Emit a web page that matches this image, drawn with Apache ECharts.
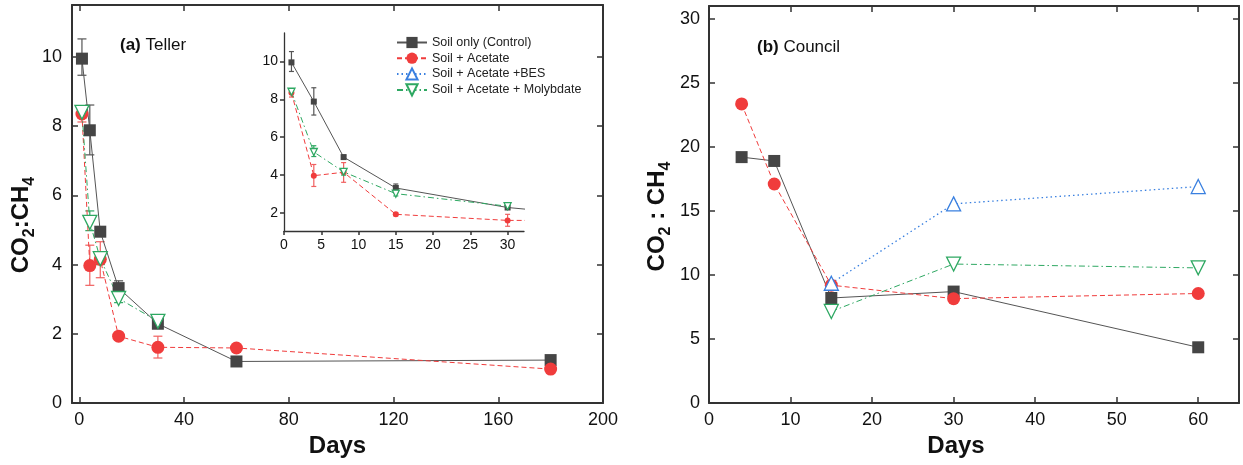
<!DOCTYPE html>
<html>
<head>
<meta charset="utf-8">
<script src="https://cdn.jsdelivr.net/npm/echarts@6/dist/echarts.min.js"></script>
<style>
  html, body { margin: 0; padding: 0; background: #fff; }
  #chart { width: 1243px; height: 465px; }
</style>
</head>
<body>
<div id="chart"></div>
<script>
// Teller (a)
const tellerDays = [1, 4, 8, 15, 30, 60, 180];
const tellerControl = [9.95, 7.88, 4.95, 3.32, 2.29, 1.2, 1.24];
const tellerAcetate = [8.35, 3.97, 4.15, 1.93, 1.61, 1.59, 0.98];
const tellerMolyDays = [1, 4, 8, 15, 30];
const tellerMolybdate = [8.4, 5.22, 4.17, 3.02, 2.36];
// error bars: [day, low, high]
const tellerControlErr = [[1, 9.47, 10.52], [4, 7.17, 8.61], [8, 4.85, 5.05], [15, 3.1, 3.53], [30, 2.2, 2.38], [60, 1.08, 1.32], [180, 1.15, 1.33]];
const tellerAcetateErr = [[1, 8.12, 8.55], [4, 3.4, 4.56], [8, 3.62, 4.66], [15, 1.85, 2.0], [30, 1.3, 1.93], [60, 1.5, 1.68], [180, 0.9, 1.05]];
const tellerMolyErr = [[1, 8.3, 8.5], [4, 4.98, 5.55], [8, 4.0, 4.3], [15, 2.9, 3.1], [30, 2.28, 2.44]];

// Council (b)
const councilDays = [4, 8, 15, 30, 60];
const councilControl = [19.2, 18.9, 8.2, 8.7, 4.35];
const councilAcetate = [23.35, 17.1, 9.2, 8.15, 8.55];
const councilTrtDays = [15, 30, 60];
const councilBes = [9.35, 15.55, 16.9];
const councilMolybdate = [7.15, 10.85, 10.55];

// tick labels
const tellerXTicks = [0, 40, 80, 120, 160, 200];
const tellerYTicks = [0, 2, 4, 6, 8, 10];
const insetXTicks = [0, 5, 10, 15, 20, 25, 30];
const insetYTicks = [2, 4, 6, 8, 10];
const councilXTicks = [0, 10, 20, 30, 40, 50, 60];
const councilYTicks = [0, 5, 10, 15, 20, 25, 30];

const names = ['Soil only (Control)', 'Soil + Acetate', 'Soil + Acetate +BES', 'Soil + Acetate + Molybdate'];
const FONT = "'Liberation Sans', Arial, sans-serif";
const GRAY = '#454545', RED = '#f03c3c', BLUE = '#3a80e0', GREEN = '#2ea862';

const zip = (xs, ys) => xs.map((x, i) => [x, ys[i]]);

// axis helper: ticks drawn from customValues so min can sit off the grid
function axis(opt) {
    const a = {
        type: 'value',
        gridIndex: opt.grid,
        position: opt.position,
        min: opt.min,
        max: opt.max,
        splitLine: { show: false },
        axisLine: { show: true, onZero: false, lineStyle: { color: '#333', width: opt.lw || 2 } },
        axisTick: { show: true, inside: opt.inside !== false, length: opt.tl || 6,
            customValues: opt.ticks, lineStyle: { color: '#333', width: 1.5 } },
        axisLabel: { show: !!opt.labels, customValues: opt.ticks, margin: opt.margin || 8,
            fontSize: opt.fs || 18, color: '#111', fontFamily: FONT }
    };
    if (opt.name) {
        a.name = opt.name;
        a.nameLocation = 'middle';
        a.nameGap = opt.nameGap;
        a.nameTextStyle = opt.nameStyle;
    }
    return a;
}

const subRich = {
    n: { fontSize: 24, fontWeight: 'bold', color: '#111', fontFamily: FONT, verticalAlign: 'bottom', padding: [0, 0, 5, 0] },
    s: { fontSize: 16, fontWeight: 'bold', color: '#111', fontFamily: FONT, verticalAlign: 'bottom' }
};
const daysStyle = { fontSize: 24, fontWeight: 'bold', color: '#111', fontFamily: FONT };

function errSeries(data, xi, yi, color, cap) {
    return {
        type: 'custom',
        xAxisIndex: xi, yAxisIndex: yi,
        data: data,
        clip: true,
        z: 1,
        silent: true,
        renderItem: function (params, api) {
            const x = api.value(0);
            const lo = api.coord([x, api.value(1)]);
            const hi = api.coord([x, api.value(2)]);
            const st = { stroke: color, lineWidth: 1.2 };
            return {
                type: 'group',
                children: [
                    { type: 'line', shape: { x1: lo[0], y1: lo[1], x2: hi[0], y2: hi[1] }, style: st },
                    { type: 'line', shape: { x1: lo[0] - cap, y1: lo[1], x2: lo[0] + cap, y2: lo[1] }, style: st },
                    { type: 'line', shape: { x1: hi[0] - cap, y1: hi[1], x2: hi[0] + cap, y2: hi[1] }, style: st }
                ]
            };
        },
        encode: { x: 0, y: [1, 2] }
    };
}

function lineSeries(name, data, xi, yi, kind, size) {
    const s = { type: 'line', name: name, data: data, xAxisIndex: xi, yAxisIndex: yi, z: 3, symbolSize: size };
    if (kind === 'ctrl') {
        s.symbol = 'rect';
        s.itemStyle = { color: GRAY };
        s.lineStyle = { color: '#555', width: 1 };
    } else if (kind === 'ace') {
        s.symbol = 'circle';
        s.itemStyle = { color: RED };
        s.lineStyle = { color: RED, width: 1, type: [5, 3] };
    } else if (kind === 'bes') {
        s.symbol = 'triangle';
        s.itemStyle = { color: '#fff', borderColor: BLUE, borderWidth: 1.3 };
        s.lineStyle = { color: BLUE, width: 1.3, type: [1.5, 3] };
    } else {
        s.symbol = 'triangle';
        s.symbolRotate = 180;
        s.itemStyle = { color: '#fff', borderColor: GREEN, borderWidth: 1.3 };
        s.lineStyle = { color: GREEN, width: 1, type: [6, 3, 1.5, 3] };
    }
    return s;
}

const option = {
    animation: false,
    backgroundColor: '#fff',
    textStyle: { fontFamily: FONT },
    title: [
        { text: '{b|(a)} Teller', left: 120, top: 37, padding: 0,
          textStyle: { fontSize: 17, fontWeight: 'normal', color: '#111', fontFamily: FONT,
              rich: { b: { fontSize: 17, fontWeight: 'bold', color: '#111', fontFamily: FONT } } } },
        { text: '{b|(b)} Council', left: 757, top: 39, padding: 0,
          textStyle: { fontSize: 17, fontWeight: 'normal', color: '#111', fontFamily: FONT,
              rich: { b: { fontSize: 17, fontWeight: 'bold', color: '#111', fontFamily: FONT } } } }
    ],
    legend: {
        data: names,
        left: 396, top: 36, padding: 0,
        orient: 'vertical',
        itemWidth: 30, itemHeight: 14, itemGap: 2.7,
        textStyle: { fontSize: 12.5, color: '#222', fontFamily: FONT }
    },
    grid: [
        { left: 72, top: 5, width: 531, height: 398 },
        { left: 284, top: 33, width: 240, height: 198 },
        { left: 709, top: 6, width: 530, height: 397 }
    ],
    xAxis: [
        axis({ grid: 0, position: 'bottom', min: -2.8, max: 200, ticks: tellerXTicks, labels: true,
               name: 'Days', nameGap: 27, nameStyle: daysStyle }),
        axis({ grid: 0, position: 'top', min: -2.8, max: 200, ticks: tellerXTicks }),
        axis({ grid: 1, position: 'bottom', min: 0, max: 32.2, ticks: insetXTicks, labels: true,
               inside: false, tl: 4, lw: 1.3, fs: 14, margin: 7 }),
        axis({ grid: 2, position: 'bottom', min: 0, max: 65, ticks: councilXTicks, labels: true,
               name: 'Days', nameGap: 27, nameStyle: Object.assign({ padding: [0, 36, 0, 0] }, daysStyle) }),
        axis({ grid: 2, position: 'top', min: 0, max: 65, ticks: councilXTicks })
    ],
    yAxis: [
        axis({ grid: 0, position: 'left', min: 0, max: 11.5, ticks: tellerYTicks, labels: true, margin: 10,
               name: '{n|CO}{s|2}{n|:CH}{s|4}', nameGap: 32,
               nameStyle: { rich: subRich, padding: [0, 42, 0, 0] } }),
        axis({ grid: 0, position: 'right', min: 0, max: 11.5, ticks: tellerYTicks }),
        axis({ grid: 1, position: 'left', min: 1.05, max: 11.5, ticks: insetYTicks, labels: true,
               inside: false, tl: 4, lw: 1.3, fs: 14, margin: 6 }),
        axis({ grid: 2, position: 'left', min: 0, max: 31, ticks: councilYTicks, labels: true, margin: 9,
               name: '{n|CO}{s|2}{n| : CH}{s|4}', nameGap: 35,
               nameStyle: { rich: subRich, padding: [0, 24, 0, 0] } }),
        axis({ grid: 2, position: 'right', min: 0, max: 31, ticks: councilYTicks })
    ],
    series: [
        // main Teller panel
        errSeries(tellerControlErr, 0, 0, '#555', 4.5),
        errSeries(tellerAcetateErr, 0, 0, '#f06060', 4.5),
        errSeries(tellerMolyErr, 0, 0, GREEN, 4.5),
        lineSeries(names[0], zip(tellerDays, tellerControl), 0, 0, 'ctrl', 12),
        lineSeries(names[1], zip(tellerDays, tellerAcetate), 0, 0, 'ace', 13),
        lineSeries(names[3], zip(tellerMolyDays, tellerMolybdate), 0, 0, 'moly', 14),
        // inset, same data on the 0-32 day window
        errSeries(tellerControlErr, 2, 2, '#555', 2.5),
        errSeries(tellerAcetateErr, 2, 2, '#f06060', 2.5),
        errSeries(tellerMolyErr, 2, 2, GREEN, 2.5),
        lineSeries(names[0], zip(tellerDays, tellerControl), 2, 2, 'ctrl', 6),
        lineSeries(names[1], zip(tellerDays, tellerAcetate), 2, 2, 'ace', 6),
        lineSeries(names[3], zip(tellerMolyDays, tellerMolybdate), 2, 2, 'moly', 7),
        // Council panel
        lineSeries(names[0], zip(councilDays, councilControl), 3, 3, 'ctrl', 12),
        lineSeries(names[1], zip(councilDays, councilAcetate), 3, 3, 'ace', 13),
        lineSeries(names[2], zip(councilTrtDays, councilBes), 3, 3, 'bes', 14),
        lineSeries(names[3], zip(councilTrtDays, councilMolybdate), 3, 3, 'moly', 14)
    ]
};

const myChart = echarts.init(document.getElementById('chart'));
myChart.setOption(option);
</script>
</body>
</html>
